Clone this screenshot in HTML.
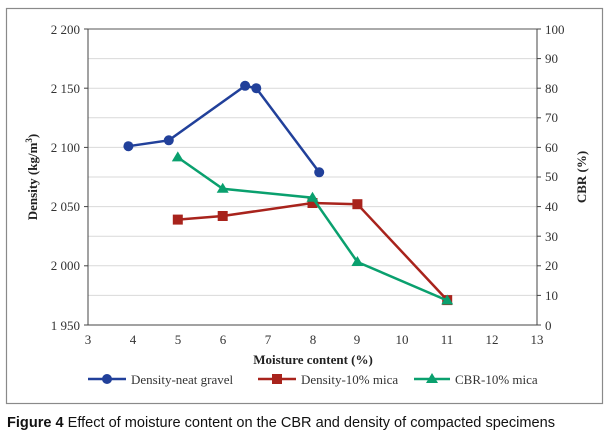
<!DOCTYPE html>
<html><head><style>
body{margin:0;background:#fff;width:607px;height:437px;overflow:hidden}
</style></head><body>
<svg width="607" height="437" viewBox="0 0 607 437" font-family="Liberation Serif, serif">
<rect x="6.5" y="8.5" width="596" height="395" fill="none" stroke="#8a8a8a" stroke-width="1.2"/>
<g stroke="#d9d9d9" stroke-width="1">
<line x1="88" x2="537" y1="58.6" y2="58.6"/><line x1="88" x2="537" y1="88.2" y2="88.2"/>
<line x1="88" x2="537" y1="117.8" y2="117.8"/><line x1="88" x2="537" y1="147.4" y2="147.4"/>
<line x1="88" x2="537" y1="177" y2="177"/><line x1="88" x2="537" y1="206.6" y2="206.6"/>
<line x1="88" x2="537" y1="236.2" y2="236.2"/><line x1="88" x2="537" y1="265.8" y2="265.8"/>
<line x1="88" x2="537" y1="295.4" y2="295.4"/>
</g>
<line x1="88" x2="537" y1="29" y2="29" stroke="#555"/>
<g stroke="#444" stroke-width="1">
<line x1="88" x2="88" y1="29" y2="325"/><line x1="537" x2="537" y1="29" y2="325"/>
<line x1="88" x2="537" y1="325" y2="325"/>
<line x1="84" x2="88" y1="29" y2="29"/><line x1="84" x2="88" y1="88.2" y2="88.2"/><line x1="84" x2="88" y1="147.4" y2="147.4"/><line x1="84" x2="88" y1="206.6" y2="206.6"/><line x1="84" x2="88" y1="265.8" y2="265.8"/><line x1="84" x2="88" y1="325" y2="325"/>
<line x1="537" x2="541" y1="29" y2="29"/><line x1="537" x2="541" y1="58.6" y2="58.6"/><line x1="537" x2="541" y1="88.2" y2="88.2"/><line x1="537" x2="541" y1="117.8" y2="117.8"/><line x1="537" x2="541" y1="147.4" y2="147.4"/><line x1="537" x2="541" y1="177" y2="177"/><line x1="537" x2="541" y1="206.6" y2="206.6"/><line x1="537" x2="541" y1="236.2" y2="236.2"/><line x1="537" x2="541" y1="265.8" y2="265.8"/><line x1="537" x2="541" y1="295.4" y2="295.4"/><line x1="537" x2="541" y1="325" y2="325"/>
</g>
<g font-size="13" fill="#333" text-anchor="end">
<text x="80" y="34">2 200</text><text x="80" y="93">2 150</text><text x="80" y="152">2 100</text><text x="80" y="211">2 050</text><text x="80" y="270">2 000</text><text x="80" y="330">1 950</text>
</g>
<g font-size="13" fill="#333" text-anchor="start">
<text x="545" y="34">100</text><text x="545" y="63">90</text><text x="545" y="93">80</text><text x="545" y="122">70</text><text x="545" y="152">60</text><text x="545" y="181">50</text><text x="545" y="211">40</text><text x="545" y="241">30</text><text x="545" y="270">20</text><text x="545" y="300">10</text><text x="545" y="330">0</text>
</g>
<g font-size="13" fill="#333" text-anchor="middle">
<text x="88" y="344">3</text><text x="133" y="344">4</text><text x="178" y="344">5</text><text x="223" y="344">6</text><text x="268" y="344">7</text><text x="313" y="344">8</text><text x="357" y="344">9</text><text x="402" y="344">10</text><text x="447" y="344">11</text><text x="492" y="344">12</text><text x="537" y="344">13</text>
</g>
<text x="313" y="364" font-size="13" font-weight="bold" text-anchor="middle" fill="#222">Moisture content (%)</text>
<text transform="translate(37,177) rotate(-90)" font-size="13" font-weight="bold" text-anchor="middle" fill="#222">Density (kg/m<tspan font-size="9" dy="-5">3</tspan><tspan dy="5">)</tspan></text>
<text transform="translate(586,177) rotate(-90)" font-size="13" font-weight="bold" text-anchor="middle" fill="#222">CBR (%)</text>
<polyline fill="none" stroke="#21409a" stroke-width="2.5" points="128.4,146.2 168.8,140.3 245.1,85.8 256.3,88.2 319.2,172.3"/>
<g fill="#21409a"><circle cx="128.4" cy="146.2" r="5"/><circle cx="168.8" cy="140.3" r="5"/><circle cx="245.1" cy="85.8" r="5"/><circle cx="256.3" cy="88.2" r="5"/><circle cx="319.2" cy="172.3" r="5"/></g>
<polyline fill="none" stroke="#a8231c" stroke-width="2.5" points="177.8,219.6 222.7,216 312.5,203 357.4,204.2 447.2,300.1"/>
<g fill="#a8231c"><rect x="172.8" y="214.6" width="10" height="10"/><rect x="217.7" y="211" width="10" height="10"/><rect x="307.5" y="198" width="10" height="10"/><rect x="352.4" y="199.2" width="10" height="10"/><rect x="442.2" y="295.1" width="10" height="10"/></g>
<polyline fill="none" stroke="#0aa06e" stroke-width="2.5" points="177.8,157.4 222.7,188.8 312.5,197.7 357.4,262 447.2,300.5"/>
<g fill="#0aa06e"><polygon points="177.8,151.4 183.8,161.4 171.8,161.4"/><polygon points="222.7,182.8 228.7,192.8 216.7,192.8"/><polygon points="312.5,191.7 318.5,201.7 306.5,201.7"/><polygon points="357.4,256 363.4,266 351.4,266"/><polygon points="447.2,294.5 453.2,304.5 441.2,304.5"/></g>
<line x1="88" x2="126" y1="379" y2="379" stroke="#21409a" stroke-width="2.5"/><circle cx="107" cy="379" r="5" fill="#21409a"/>
<text x="131" y="384" font-size="13" fill="#333">Density-neat gravel</text>
<line x1="258" x2="296" y1="379" y2="379" stroke="#a8231c" stroke-width="2.5"/><rect x="272" y="374" width="10" height="10" fill="#a8231c"/>
<text x="301" y="384" font-size="13" fill="#333">Density-10% mica</text>
<line x1="414" x2="450" y1="379" y2="379" stroke="#0aa06e" stroke-width="2.5"/><polygon points="432,373 438,383 426,383" fill="#0aa06e"/>
<text x="455" y="384" font-size="13" fill="#333">CBR-10% mica</text>
<text x="7" y="427" font-family="Liberation Sans, sans-serif" font-size="14.5" fill="#111" textLength="548" lengthAdjust="spacingAndGlyphs"><tspan font-weight="bold">Figure 4</tspan> Effect of moisture content on the CBR and density of compacted specimens</text>
</svg>
</body></html>
